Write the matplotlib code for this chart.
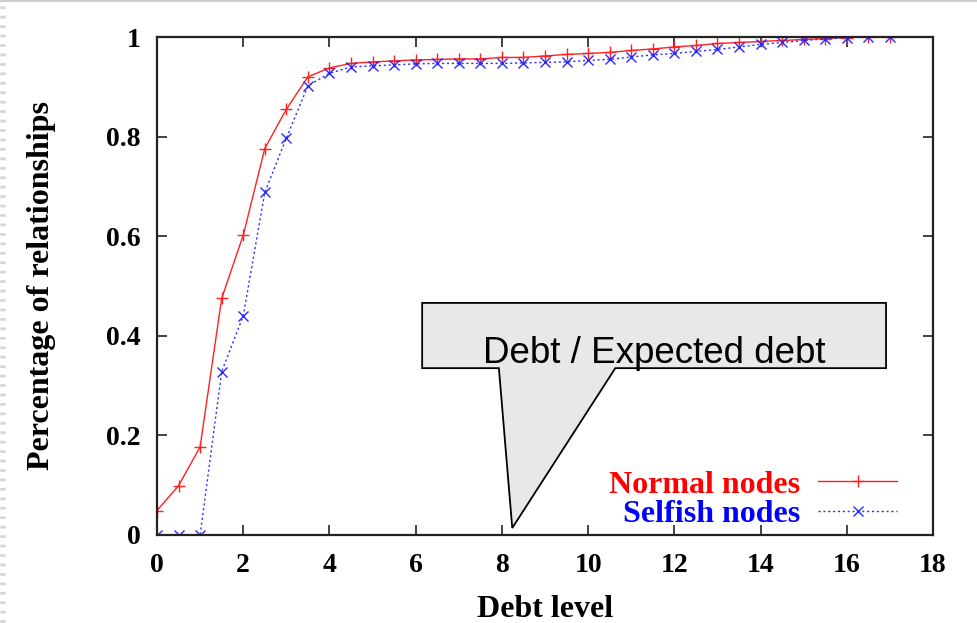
import matplotlib
matplotlib.use("Agg")
import matplotlib.pyplot as plt
from matplotlib.patches import Polygon
from matplotlib.lines import Line2D

# Debt level (x) and cumulative share of relationships for each node type
debt_level = [0, 0.5, 1, 1.5, 2, 2.5, 3, 3.5, 4, 4.5, 5, 5.5, 6, 6.5, 7, 7.5,
              8, 8.5, 9, 9.5, 10, 10.5, 11, 11.5, 12, 12.5, 13, 13.5, 14,
              14.5, 15, 15.5, 16, 16.5, 17]
normal_nodes = [0.049, 0.099, 0.177, 0.475, 0.602, 0.776, 0.855, 0.920, 0.938,
                0.947, 0.950, 0.952, 0.954, 0.955, 0.956, 0.956, 0.959, 0.959,
                0.962, 0.965, 0.967, 0.969, 0.973, 0.976, 0.980, 0.983, 0.987,
                0.989, 0.991, 0.993, 0.995, 0.997, 0.999, 1.0, 1.0]
selfish_nodes = [0.0, 0.0, 0.0, 0.328, 0.440, 0.688, 0.797, 0.902, 0.927,
                 0.940, 0.942, 0.944, 0.946, 0.947, 0.947, 0.947, 0.947, 0.948,
                 0.949, 0.950, 0.953, 0.955, 0.960, 0.964, 0.967, 0.971, 0.975,
                 0.980, 0.985, 0.989, 0.993, 0.996, 0.999, 1.0, 1.0]

x_ticks = [0, 2, 4, 6, 8, 10, 12, 14, 16, 18]
y_ticks = [0, 0.2, 0.4, 0.6, 0.8, 1.0]
y_tick_labels = ["0", "0.2", "0.4", "0.6", "0.8", "1"]

SERIF = ["Liberation Serif", "DejaVu Serif"]
SANS = ["Liberation Sans", "DejaVu Sans"]

fig = plt.figure(figsize=(9.77, 6.23), dpi=100)
ax = fig.add_axes([0.1607, 0.1413, 0.7943, 0.7993])

ax.plot(debt_level, normal_nodes, color="#ff2020", lw=1.0, marker="+",
        markersize=9, markeredgewidth=1.0, label="Normal nodes")
ax.plot(debt_level, selfish_nodes, color="#2a2aff", lw=1.0, ls=(0, (1.5, 2.0)),
        marker="x", markersize=7, markeredgewidth=1.0, label="Selfish nodes")

ax.set_xlim(0, 18)
ax.set_ylim(0, 1)
ax.set_xticks(x_ticks)
ax.set_xticklabels([str(t) for t in x_ticks])
ax.set_yticks(y_ticks)
ax.set_yticklabels(y_tick_labels)

for s in ax.spines.values():
    s.set_linewidth(1.6)
    s.set_color("#222222")
ax.tick_params(direction="in", length=7, width=1.2, color="#222222",
               top=True, right=True, labelsize=20)
ax.tick_params(axis="x", pad=13)
ax.tick_params(axis="y", pad=12)
for lab in ax.get_xticklabels() + ax.get_yticklabels():
    lab.set_fontfamily(SERIF)
    lab.set_fontweight("bold")

ax.set_xlabel("Debt level", fontsize=23, fontweight="bold", family=SERIF,
              labelpad=12)
ax.set_ylabel("Percentage of relationships", fontsize=23, fontweight="bold",
              family=SERIF, labelpad=36)

# Speech-bubble callout pointing at the x axis
callout = [(6.15, 0.466), (16.91, 0.466), (16.91, 0.335), (10.63, 0.335),
           (8.24, 0.014), (7.93, 0.335), (6.15, 0.335)]
ax.add_patch(Polygon(callout, closed=True, facecolor="#e8e8e8",
                     edgecolor="black", lw=1.3, zorder=4))
ax.text(11.54, 0.345, "Debt / Expected debt", family=SANS, fontsize=26.5,
        ha="center", va="baseline", color="black", zorder=5)

leg = ax.legend(loc="lower right", bbox_to_anchor=(0.954, 0.012),
                markerfirst=False, frameon=False, handlelength=2.47,
                handletextpad=0.56, labelspacing=0.0, borderpad=0.0,
                borderaxespad=0.0,
                prop={"family": SERIF, "weight": "bold", "size": 23})
for txt, col in zip(leg.get_texts(), ["#ff0000", "#0000ff"]):
    txt.set_color(col)

# Window chrome around the figure
fig.add_artist(Line2D([0, 1], [0.998, 0.998], transform=fig.transFigure,
                      color="#cfcfcf", lw=1.5))
fig.add_artist(Line2D([0.003, 0.003], [0, 1], transform=fig.transFigure,
                      color="#d6d6d6", lw=4, ls=(0, (0.5, 1.2))))

fig.savefig("out.png", dpi=100)
